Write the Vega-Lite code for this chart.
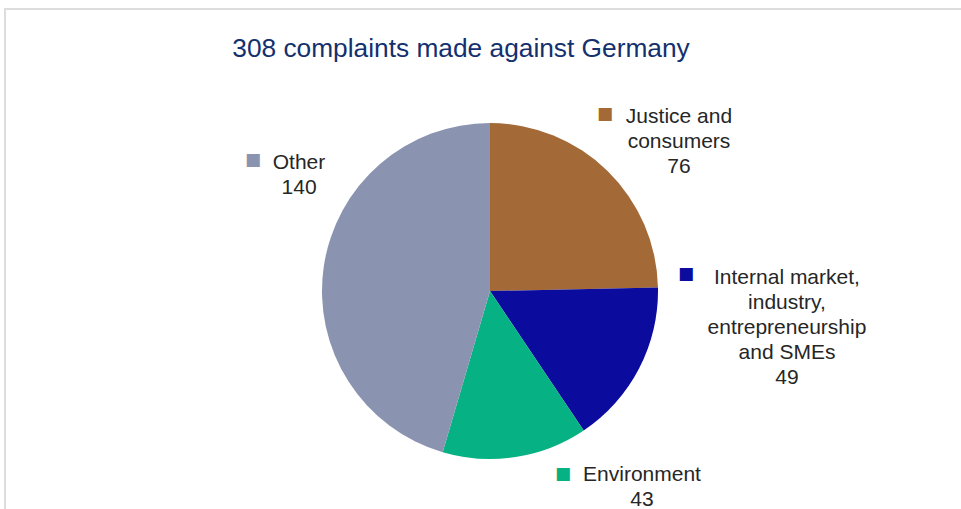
{
  "$schema": "https://vega.github.io/schema/vega-lite/v6.json",
  "width": 970,
  "height": 564,
  "autosize": "none",
  "padding": {"left": 5, "top": 9, "right": -14, "bottom": -64},
  "background": "white",
  "config": {"view": {"stroke": null}, "font": "Liberation Sans"},
  "title": {
    "text": "308 complaints made against Germany",
    "fontSize": 26.3,
    "font": "Liberation Sans",
    "fontWeight": "normal",
    "color": "#14306E",
    "anchor": "middle",
    "frame": "group",
    "offset": -75,
    "baseline": "alphabetic",
    "dx": -29
  },
  "data": {
    "values": [
      {"category": "Justice and consumers", "count": 76, "rank": 1, "label": "Justice and\nconsumers\n76"},
      {"category": "Internal market, industry, entrepreneurship and SMEs", "count": 49, "rank": 2, "label": "Internal market,\nindustry,\nentrepreneurship\nand SMEs\n49"},
      {"category": "Environment", "count": 43, "rank": 3, "label": "Environment\n43"},
      {"category": "Other", "count": 140, "rank": 4, "label": "Other\n140"}
    ]
  },
  "layer": [
    {
      "mark": {"type": "rect", "fill": null, "stroke": "#dddddd", "strokeWidth": 2},
      "encoding": {}
    },
    {
      "mark": {"type": "arc", "radius": 168},
      "encoding": {
        "theta": {"field": "count", "type": "quantitative", "stack": true},
        "order": {"field": "rank", "type": "quantitative"},
        "color": {
          "field": "category",
          "type": "nominal",
          "scale": {
            "domain": ["Justice and consumers", "Internal market, industry, entrepreneurship and SMEs", "Environment", "Other"],
            "range": ["#A36A38", "#0B0B9E", "#06B183", "#8A94B1"]
          },
          "legend": null
        }
      }
    },
    {
      "mark": {
        "type": "text",
        "radius": 200,
        "fontSize": 21,
        "lineHeight": 25,
        "lineBreak": "\n",
        "color": "#262626",
        "align": "center",
        "baseline": "middle",
        "dx": {"expr": "datum.rank == 1 ? 49 : datum.rank == 2 ? 119.5 : datum.rank == 3 ? 121.5 : 7"},
        "dy": {"expr": "datum.rank == 1 ? -31 : datum.rank == 2 ? -105 : datum.rank == 3 ? -14 : -100"}
      },
      "encoding": {
        "theta": {"field": "count", "type": "quantitative", "stack": true},
        "order": {"field": "rank", "type": "quantitative"},
        "text": {"field": "label"}
      }
    },
    {
      "mark": {
        "type": "text",
        "radius": 200,
        "font": "DejaVu Sans",
        "fontSize": 17,
        "align": "center",
        "baseline": "middle",
        "dx": {"expr": "datum.rank == 1 ? -25 : datum.rank == 2 ? 18.5 : datum.rank == 3 ? 42.5 : -39"},
        "dy": {"expr": "datum.rank == 1 ? -34 : datum.rank == 2 ? -109 : datum.rank == 3 ? -14.7 : -102.5"}
      },
      "encoding": {
        "theta": {"field": "count", "type": "quantitative", "stack": true},
        "order": {"field": "rank", "type": "quantitative"},
        "text": {"value": "■"},
        "color": {"field": "category", "type": "nominal", "legend": null}
      }
    }
  ]
}
